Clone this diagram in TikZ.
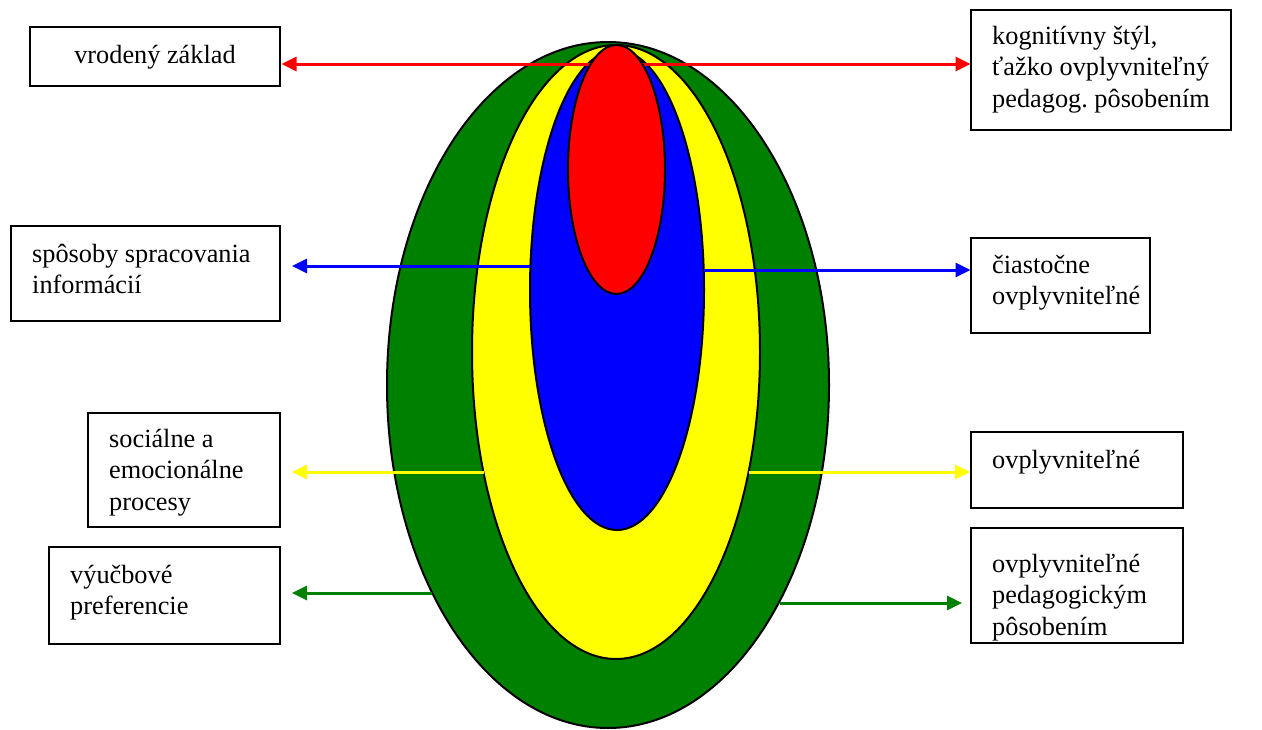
\documentclass[tikz,border=0pt]{standalone}
\usepackage{fontspec}
\setmainfont{Liberation Serif}
\usetikzlibrary{shapes.geometric,arrows.meta,calc}
\definecolor{wgreen}{RGB}{0,128,0}
\definecolor{wyellow}{RGB}{255,255,0}
\definecolor{wred}{RGB}{255,0,0}
\definecolor{wblue}{RGB}{0,0,255}
\begin{document}
\frenchspacing
\begin{tikzpicture}[x=1pt,y=-1pt,
  layer/.style={ellipse, draw=black, line width=2pt, inner sep=0pt, outer sep=0pt},
  box/.style={draw=black, line width=2pt, inner sep=0pt, outer sep=0pt, fill=white},
  txt/.style={font=\fontsize{26.3}{31.5}\selectfont, inner sep=0pt, anchor=base west, text width=250pt, align=flush left},
  txtc/.style={font=\fontsize{26.3}{31.5}\selectfont, inner sep=0pt, anchor=base},
  arr/.style={line width=3pt, -{Triangle[length=15pt,width=14pt]}},
  darr/.style={line width=3pt, {Triangle[length=15pt,width=14pt]}-{Triangle[length=15pt,width=14pt]}}]
\useasboundingbox (0,0) rectangle (1262,729);

% layers
\node[layer, fill=wgreen, minimum width=442, minimum height=686] (green) at (608,385) {};
\node[layer, fill=wyellow, minimum width=288, minimum height=614] (yellowl) at (616,352) {};
\node[layer, fill=wblue, minimum width=174, minimum height=480] (bluel) at (617,290) {};

% boxes
\node[box, minimum width=250, minimum height=59] (vrod) at (155,56.5) {};
\node[box, minimum width=260, minimum height=120] (kog) at (1101,70) {};
\node[box, minimum width=269, minimum height=95] (spos) at (145.5,273.5) {};
\node[box, minimum width=179, minimum height=95] (ciast) at (1060.5,285.5) {};
\node[box, minimum width=192, minimum height=114] (soc) at (184,470) {};
\node[box, minimum width=212, minimum height=76] (ovpl) at (1077,470) {};
\node[box, minimum width=231, minimum height=97] (vyuc) at (164.5,595.5) {};
\node[box, minimum width=212, minimum height=115] (ovped) at (1077,585.5) {};

% arrow levels and start points
\coordinate (ry) at (0,64);
\coordinate (bL) at (530.4,266);
\coordinate (bR) at (703.7,270);
\coordinate (yL) at (483.5,472);
\coordinate (yR) at (748.5,472);
\coordinate (gL) at (432.3,593);
\coordinate (gR) at (779.6,603);

\draw[darr, wred] ($(vrod.east |- ry)+(1.5,0)$) -- ($(kog.west |- ry)+(-0.5,0)$);
\node[layer, fill=wred, minimum width=97, minimum height=249] (redl) at (616.5,169.5) {};

\draw[arr, wblue] (bL) -- ($(spos.east |- bL)+(12,0)$);
\draw[arr, wblue] (bR) -- ($(ciast.west |- bR)+(-0.5,0)$);
\draw[arr, wyellow] (yL) -- ($(soc.east |- yL)+(12,0)$);
\draw[arr, wyellow] (yR) -- ($(ovpl.west |- yR)+(-1,0)$);
\draw[arr, wgreen] (gL) -- ($(vyuc.east |- gL)+(12,0)$);
\draw[arr, wgreen] (gR) -- ($(ovped.west |- gR)+(-9,0)$);

% texts
\node[txtc] (t1) at (155,63.5) {vrodený základ};
\node[txt] (t2) at (992,44) {kognitívny štýl,\\ťažko ovplyvniteľný\\pedagog. pôsobením};
\node[txt] (t3) at (32,262) {spôsoby spracovania\\informácií};
\node[txt] (t4) at (992,273) {čiastočne\\ovplyvniteľné};
\node[txt] (t5) at (109,447) {sociálne a\\emocionálne\\procesy};
\node[txt] (t6) at (992,468) {ovplyvniteľné};
\node[txt] (t7) at (70,583) {výučbové\\preferencie};
\node[txt] (t8) at (992,572) {ovplyvniteľné\\pedagogickým\\pôsobením};
\end{tikzpicture}
\end{document}
